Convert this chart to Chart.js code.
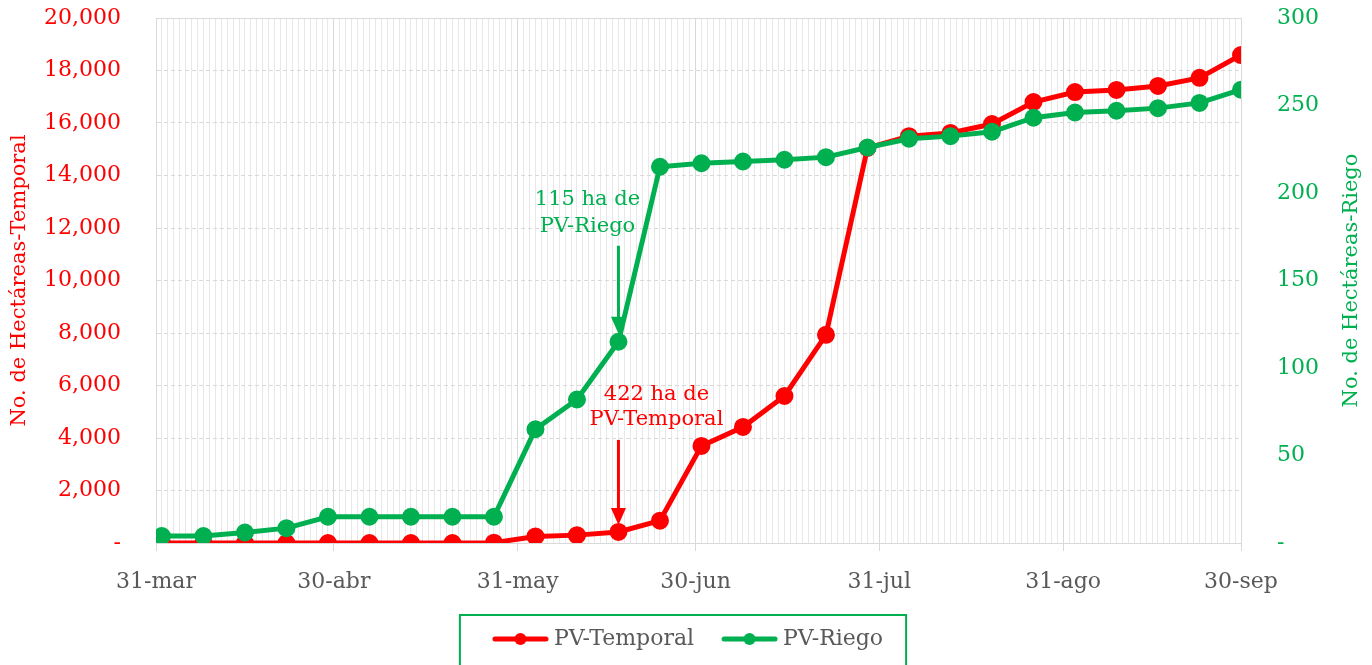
<!DOCTYPE html>
<html>
<head>
<meta charset="utf-8">
<script src="https://cdn.jsdelivr.net/npm/chart.js@4.4.0/dist/chart.umd.min.js"></script>
<style>
  html, body { margin: 0; padding: 0; background: #fff; }
</style>
</head>
<body>
<canvas id="grafica" width="1372" height="665"></canvas>
<script>
// fechas semanales de registro (el 31-mar solo hay dato de riego)
const fechaInicio = '2020-03-31'
const fechas = ['2020-04-01', '2020-04-08', '2020-04-15', '2020-04-22', '2020-04-29',
  '2020-05-06', '2020-05-13', '2020-05-20', '2020-05-27',
  '2020-06-03', '2020-06-10', '2020-06-17', '2020-06-24',
  '2020-07-01', '2020-07-08', '2020-07-15', '2020-07-22', '2020-07-29',
  '2020-08-05', '2020-08-12', '2020-08-19', '2020-08-26',
  '2020-09-02', '2020-09-09', '2020-09-16', '2020-09-23', '2020-09-30']

// hectáreas acumuladas
const temporal = [0, 0, 0, 0, 0, 0, 0, 0, 10, 250, 300, 422, 850,
  3700, 4420, 5600, 7930, 15050, 15500, 15620, 15960, 16800, 17180, 17260, 17410, 17720, 18590]
const riego = [0, 4, 4, 6, 8.5, 15, 15, 15, 15, 15, 65, 82, 115, 215,
  217, 218, 219, 220.5, 226, 231, 232.5, 235, 243, 246, 247, 248.5, 251.5, 259]

// etiquetas del eje x (fin de mes)
const fechasMes = ['2020-03-31', '2020-04-30', '2020-05-31', '2020-06-30', '2020-07-31', '2020-08-31', '2020-09-30']
const etiquetasMes = ['31-mar', '30-abr', '31-may', '30-jun', '31-jul', '31-ago', '30-sep']

// notas sobre la gráfica
const notaRiego = ['115 ha de', 'PV-Riego']
const notaTemporal = ['422 ha de', 'PV-Temporal']

const rojo = '#ff0000'
const verde = '#00b050'
const gris = '#595959'
const fuente = 'DejaVu Serif'

function dia(f) {
  return Math.round((Date.parse(f) - Date.parse(fechaInicio)) / 864e5)
}
const diasMes = fechasMes.map(dia)
const ultimoDia = diasMes[diasMes.length - 1]

function puntos(fs, valores) {
  return fs.map((f, i) => ({ x: dia(f), y: valores[i] }))
}

function miles(v) {
  if (v === 0) return '-'
  return String(v).replace(/\B(?=(\d{3})+(?!\d))/g, ',')
}

// icono de leyenda: línea con punto
function icono(color) {
  const c = document.createElement('canvas')
  c.width = 82
  c.height = 14
  const g = c.getContext('2d')
  g.strokeStyle = color
  g.lineWidth = 5
  g.lineCap = 'round'
  g.beginPath()
  g.moveTo(28, 7)
  g.lineTo(79, 7)
  g.stroke()
  g.fillStyle = color
  g.beginPath()
  g.arc(53.5, 7, 6, 0, Math.PI * 2)
  g.fill()
  return c
}
const iconos = [icono(rojo), icono(verde)]

function flecha(ctx, x, y0, y1, color) {
  ctx.strokeStyle = color
  ctx.fillStyle = color
  ctx.lineWidth = 3
  ctx.beginPath()
  ctx.moveTo(x, y0)
  ctx.lineTo(x, y1 - 12)
  ctx.stroke()
  ctx.beginPath()
  ctx.moveTo(x - 7.5, y1 - 17)
  ctx.lineTo(x + 7.5, y1 - 17)
  ctx.lineTo(x, y1)
  ctx.closePath()
  ctx.fill()
}

const extras = {
  id: 'extras',
  beforeDatasetsDraw(chart) {
    const { ctx, chartArea: a } = chart
    ctx.save()
    ctx.strokeStyle = '#d9d9d9'
    ctx.lineWidth = 1
    ctx.beginPath()
    ctx.moveTo(a.left, a.top + 0.5)
    ctx.lineTo(a.right, a.top + 0.5)
    ctx.stroke()
    ctx.restore()
  },
  afterDatasetsDraw(chart) {
    const { ctx } = chart
    const pr = chart.getDatasetMeta(1).data[riego.indexOf(115)]
    const pt = chart.getDatasetMeta(0).data[temporal.indexOf(422)]
    ctx.save()
    ctx.font = '21px "' + fuente + '"'
    ctx.textAlign = 'center'
    ctx.textBaseline = 'middle'
    ctx.fillStyle = verde
    ctx.fillText(notaRiego[0], pr.x - 31, pr.y - 142)
    ctx.fillText(notaRiego[1], pr.x - 31, pr.y - 115)
    flecha(ctx, pr.x, pr.y - 96, pr.y - 8, verde)
    ctx.fillStyle = rojo
    ctx.fillText(notaTemporal[0], pt.x + 38, pt.y - 137)
    ctx.fillText(notaTemporal[1], pt.x + 38, pt.y - 112)
    flecha(ctx, pt.x, pt.y - 92, pt.y - 7, rojo)
    ctx.restore()
  },
  afterDraw(chart) {
    const { ctx } = chart
    const cajas = chart.legend.legendHitBoxes
    if (!cajas || !cajas.length) return
    const primera = cajas[0]
    const ultima = cajas[cajas.length - 1]
    const x0 = primera.left - 13
    const x1 = ultima.left + ultima.width + 23
    const y0 = primera.top + primera.height / 2 - 24
    ctx.save()
    ctx.strokeStyle = verde
    ctx.lineWidth = 2
    ctx.strokeRect(x0, y0, x1 - x0, 80)
    // título del eje derecho (se lee de abajo hacia arriba)
    const a = chart.chartArea
    ctx.translate(1352, (a.top + a.bottom) / 2)
    ctx.rotate(-Math.PI / 2)
    ctx.font = '21px "' + fuente + '"'
    ctx.fillStyle = verde
    ctx.textAlign = 'center'
    ctx.textBaseline = 'middle'
    ctx.fillText('No. de Hectáreas-Riego', 0, 0)
    ctx.restore()
  }
}

const grafica = new Chart(document.getElementById('grafica'), {
  type: 'line',
  data: {
    datasets: [{
      label: 'PV-Temporal',
      data: puntos(fechas, temporal),
      yAxisID: 'y',
      borderColor: rojo,
      backgroundColor: rojo,
      borderWidth: 5,
      pointRadius: 6.5,
      order: 1
    }, {
      label: 'PV-Riego',
      data: puntos([fechaInicio].concat(fechas), riego),
      yAxisID: 'y1',
      borderColor: verde,
      backgroundColor: verde,
      borderWidth: 5,
      pointRadius: 6.5,
      order: 0
    }]
  },
  options: {
    responsive: false,
    animation: false,
    devicePixelRatio: 1,
    layout: { padding: { top: 18, bottom: 5, right: 16 } },
    plugins: {
      tooltip: { enabled: false },
      legend: {
        position: 'bottom',
        reverse: true,
        labels: {
          usePointStyle: true,
          pointStyleWidth: 70,
          padding: 8,
          color: gris,
          font: { family: fuente, size: 22 },
          generateLabels(chart) {
            const items = Chart.defaults.plugins.legend.labels.generateLabels(chart)
            items.forEach(it => { it.pointStyle = iconos[it.datasetIndex] })
            return items
          }
        }
      }
    },
    scales: {
      x: {
        type: 'linear',
        min: 0,
        max: ultimoDia,
        afterBuildTicks(s) {
          const t = []
          for (let d = 0; d <= ultimoDia; d++) t.push({ value: d })
          s.ticks = t
        },
        afterFit(s) { s.height = 77 },
        ticks: {
          autoSkip: false,
          maxRotation: 0,
          padding: 18,
          color: gris,
          font: { family: fuente, size: 22 },
          callback(v) {
            const i = diasMes.indexOf(v)
            return i >= 0 ? etiquetasMes[i] : ''
          }
        },
        grid: {
          color(c) { return c.tick && diasMes.includes(c.tick.value) ? '#d9d9d9' : '#e8e8e8' },
          tickColor(c) { return c.tick && diasMes.includes(c.tick.value) ? '#d9d9d9' : 'rgba(0,0,0,0)' },
          tickLength: 8,
          lineWidth: 1
        },
        border: { color: '#d9d9d9', width: 1 }
      },
      y: {
        position: 'left',
        min: 0,
        max: 20000,
        afterFit(s) { s.width = 156 },
        ticks: {
          stepSize: 2000,
          padding: 4,
          color: rojo,
          font: { family: fuente, size: 22 },
          callback: miles
        },
        grid: { color: '#d9d9d9', tickLength: 31, tickColor: 'rgba(0,0,0,0)' },
        border: { color: '#d9d9d9', dash: [4, 3] },
        title: {
          display: true,
          text: 'No. de Hectáreas-Temporal',
          color: rojo,
          font: { family: fuente, size: 21 },
          padding: { top: 7, bottom: 0 }
        }
      },
      y1: {
        position: 'right',
        min: 0,
        max: 300,
        afterFit(s) { s.width = 115 },
        ticks: {
          stepSize: 50,
          padding: 4,
          color: verde,
          font: { family: fuente, size: 22 },
          callback: v => v === 0 ? '-' : v
        },
        grid: { drawOnChartArea: false, tickLength: 32, tickColor: 'rgba(0,0,0,0)' },
        border: { display: false }
      }
    }
  },
  plugins: [extras]
})
</script>
</body>
</html>
